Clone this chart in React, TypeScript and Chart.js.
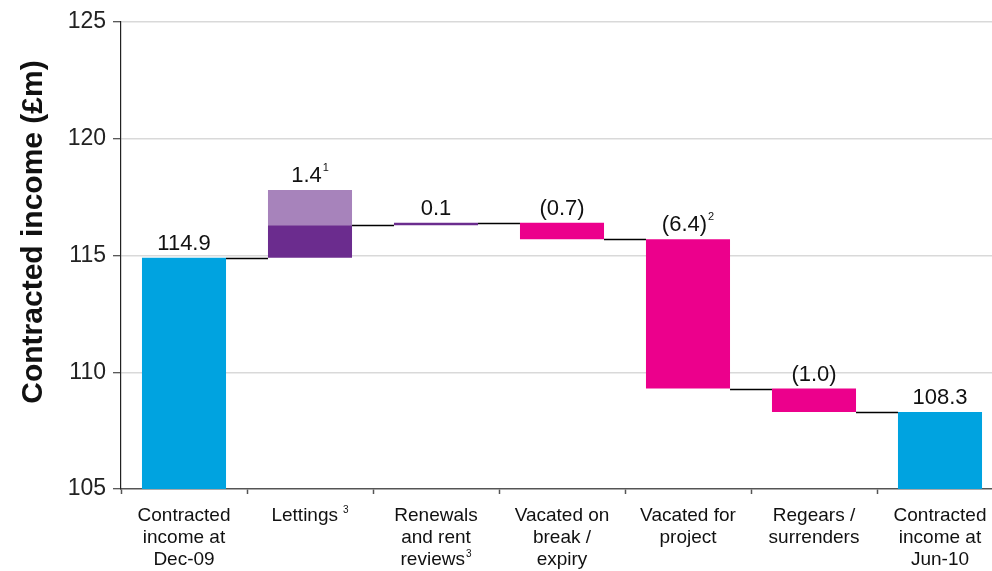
import React, { useEffect, useRef } from "react";
import { Chart, registerables } from "chart.js";

Chart.register(...registerables);

// Category labels, one entry per line of text
const categories: string[][] = [
  ["Contracted", "income at", "Dec-09"],
  ["Lettings"],
  ["Renewals", "and rent", "reviews"],
  ["Vacated on", "break /", "expiry"],
  ["Vacated for", "project"],
  ["Regears /", "surrenders"],
  ["Contracted", "income at", "Jun-10"],
];
// Footnote markers attached to the last line of each category label
const categoryNotes = ["", "3", "3", "", "", "", ""];

// Contracted income, £m
const openingIncome = 114.9;
const movements = [1.4, 0.1, -0.7, -6.4, -1.0];
const closingIncome = 108.3;
// Lighter band drawn above the net lettings step
const lettingsUpperBand = 1.5;
// Footnote markers attached to the value labels
const valueNotes = ["", "1", "", "", "2", "", ""];

const yMin = 105;
const yMax = 125;
const yStep = 5;

const COLOR_TOTAL = "#00a3e0";
const COLOR_UP = "#6b2c8e";
const COLOR_UP_LIGHT = "#a783bb";
const COLOR_DOWN = "#ec008c";
const FONT = "'Liberation Sans', Arial, Helvetica, sans-serif";

const round1 = (v: number) => Math.round(v * 10) / 10;

// Running levels after each bar (opening, then after every movement)
const levels: number[] = [openingIncome];
movements.forEach((m) => levels.push(round1(levels[levels.length - 1] + m)));

const ranges: [number, number][] = [[yMin, openingIncome]];
movements.forEach((m, i) => {
  const a = levels[i];
  const b = levels[i + 1];
  ranges.push([Math.min(a, b), Math.max(a, b)]);
});
ranges.push([yMin, closingIncome]);

const barColors = [
  COLOR_TOTAL,
  ...movements.map((m) => (m >= 0 ? COLOR_UP : COLOR_DOWN)),
  COLOR_TOTAL,
];

const upperBand: ([number, number] | null)[] = categories.map((_, i) =>
  i === 1 ? [levels[1], round1(levels[1] + lettingsUpperBand)] : null
);

const labelValues = [openingIncome, ...movements, closingIncome];
const formatValue = (v: number) =>
  v < 0 ? `(${Math.abs(v).toFixed(1)})` : v.toFixed(1);

function drawWithNote(
  ctx: CanvasRenderingContext2D,
  text: string,
  note: string,
  cx: number,
  baseline: number,
  mainFont: string,
  noteFont: string,
  gap: number,
  raise: number
) {
  ctx.font = mainFont;
  const mw = ctx.measureText(text).width;
  let nw = 0;
  if (note) {
    ctx.font = noteFont;
    nw = ctx.measureText(note).width + gap;
  }
  const left = cx - (mw + nw) / 2;
  ctx.textAlign = "left";
  ctx.textBaseline = "alphabetic";
  ctx.font = mainFont;
  ctx.fillText(text, left, baseline);
  if (note) {
    ctx.font = noteFont;
    ctx.fillText(note, left + mw + gap, baseline - raise);
  }
}

const waterfallDecor = {
  id: "waterfallDecor",
  afterDatasetsDraw(chart: any) {
    const ctx: CanvasRenderingContext2D = chart.ctx;
    const y = chart.scales.y;
    const bars = chart.getDatasetMeta(0).data;

    // connector lines between consecutive bars
    ctx.save();
    ctx.strokeStyle = "#000";
    ctx.lineWidth = 1.5;
    for (let i = 0; i < bars.length - 1; i++) {
      const a = bars[i];
      const b = bars[i + 1];
      const py = Math.round(y.getPixelForValue(levels[i])) + 0.5;
      ctx.beginPath();
      ctx.moveTo(a.x + a.width / 2, py);
      ctx.lineTo(b.x - b.width / 2, py);
      ctx.stroke();
    }
    ctx.restore();

    // value labels above each bar
    ctx.save();
    ctx.fillStyle = "#111";
    bars.forEach((bar: any, i: number) => {
      const top = Math.max(ranges[i][1], upperBand[i] ? upperBand[i]![1] : -Infinity);
      const py = y.getPixelForValue(top) - 8;
      drawWithNote(
        ctx,
        formatValue(labelValues[i]),
        valueNotes[i],
        bar.x,
        py,
        `22px ${FONT}`,
        `11px ${FONT}`,
        1,
        11
      );
    });
    ctx.restore();
  },
  afterDraw(chart: any) {
    const ctx: CanvasRenderingContext2D = chart.ctx;
    const bars = chart.getDatasetMeta(0).data;

    // multi-line category labels
    ctx.save();
    ctx.fillStyle = "#111";
    bars.forEach((bar: any, i: number) => {
      const lines = categories[i];
      lines.forEach((line, j) => {
        const isLast = j === lines.length - 1;
        const note = isLast ? categoryNotes[i] : "";
        const gap = lines.length === 1 ? 5 : 1;
        drawWithNote(
          ctx,
          line,
          note,
          bar.x,
          521 - 489 + chart.chartArea.bottom + j * 22,
          `19px ${FONT}`,
          `10px ${FONT}`,
          gap,
          8
        );
      });
    });
    ctx.restore();

    // rotated y-axis title
    ctx.save();
    ctx.translate(42, 232);
    ctx.rotate(-Math.PI / 2);
    ctx.font = `bold 30px ${FONT}`;
    ctx.fillStyle = "#111";
    ctx.textAlign = "center";
    ctx.textBaseline = "alphabetic";
    ctx.fillText("Contracted income (£m)", 0, 0);
    ctx.restore();
  },
};

export default function App() {
  const canvasRef = useRef<HTMLCanvasElement | null>(null);

  useEffect(() => {
    const canvas = canvasRef.current;
    if (!canvas) return;
    const chart = new Chart(canvas, {
      type: "bar",
      data: {
        labels: categories.map((c) => c.join(" ")),
        datasets: [
          {
            data: ranges as any,
            backgroundColor: barColors,
            borderWidth: 0,
            barPercentage: 0.667,
            categoryPercentage: 1,
            grouped: false,
          } as any,
          {
            data: upperBand as any,
            backgroundColor: COLOR_UP_LIGHT,
            borderWidth: 0,
            barPercentage: 0.667,
            categoryPercentage: 1,
            grouped: false,
          } as any,
        ],
      },
      options: {
        responsive: false,
        devicePixelRatio: 1,
        animation: false,
        layout: { padding: { top: 22, right: 9, left: 0, bottom: 0 } },
        plugins: {
          legend: { display: false },
          tooltip: { enabled: false },
          title: { display: false },
        },
        scales: {
          x: {
            offset: true,
            grid: {
              offset: true,
              drawOnChartArea: false,
              drawTicks: true,
              tickLength: 5,
              tickColor: "#555",
              tickWidth: 1.5,
            },
            border: { color: "#555", width: 1.5 },
            ticks: { display: false },
            afterFit: (s: any) => {
              s.height = 82;
            },
          },
          y: {
            min: yMin,
            max: yMax,
            grid: {
              color: (c: any) =>
                c.tick && c.tick.value === yMin ? "rgba(0,0,0,0)" : "#d9d9d9",
              lineWidth: 1.5,
              tickLength: 8,
              tickColor: "#222",
              tickWidth: 1,
            },
            border: { color: "#222", width: 1.2 },
            ticks: {
              stepSize: yStep,
              padding: 7,
              color: "#222",
              font: { family: FONT, size: 23 },
            },
            afterFit: (s: any) => {
              s.width = 121;
            },
          },
        },
      },
      plugins: [waterfallDecor],
    });
    return () => chart.destroy();
  }, []);

  return (
    <div
      style={{
        position: "fixed",
        left: 0,
        top: 0,
        width: 992,
        height: 571,
        overflow: "hidden",
        background: "#fff",
      }}
    >
      <canvas ref={canvasRef} width={1012} height={571} style={{ display: "block" }} />
    </div>
  );
}
